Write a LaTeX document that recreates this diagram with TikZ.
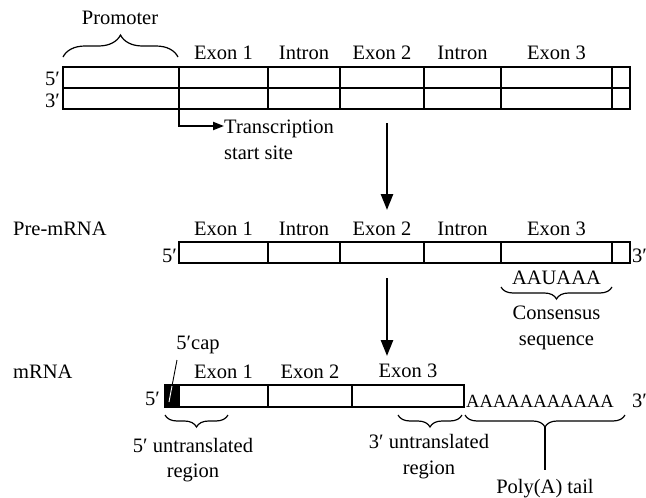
\documentclass[tikz,border=0pt]{standalone}
\usepackage{fontspec}
\setmainfont{Liberation Serif}
\usetikzlibrary{arrows.meta,positioning,decorations.pathreplacing,calc}

\begin{document}
\begin{tikzpicture}[
    x=1pt, y=-1pt,
    lbl/.style={font=\fontsize{20.5}{24}\selectfont, inner sep=0pt, anchor=base},
    strand/.style={draw=black, line width=1.1pt},
    bigarrow/.style={-{Triangle[length=16pt, width=12pt]}, line width=2.6pt},
    tssarrow/.style={-{Triangle[length=11pt, width=8pt]}, line width=2pt},
    brc/.style={decorate, decoration={brace, amplitude=#1}, line width=1.2pt},
    brc/.default=12pt
]
\useasboundingbox (0,0) rectangle (646,498);

% DNA double strand
\draw[strand] (63,67) rectangle (630,109);
\draw[strand] (63,88) -- (630,88);
\foreach \xx in {179,268,340,424,501,612}
  \draw[strand] (\xx,67) -- (\xx,109);
\node[lbl, anchor=base east] (d5) at (60,85) {5′};
\node[lbl, anchor=base east] (d3) at (60,107) {3′};
\node[lbl] (dex1) at (223.5,59) {Exon 1};
\node[lbl] (din1) at (304,59) {Intron};
\node[lbl] (dex2) at (382,59) {Exon 2};
\node[lbl] (din2) at (462.5,59) {Intron};
\node[lbl] (dex3) at (556.5,59) {Exon 3};
\coordinate (promL) at (63,57);
\coordinate (promR) at (178,57);
\draw[brc=22pt] (promL) -- (promR);
\node[lbl] (prom) at (120,24) {Promoter};

% transcription start site
\coordinate (tssA) at (179,110);
\coordinate (tssB) at (179,126);
\node[lbl, anchor=base west] (tss1) at (224,133) {Transcription};
\node[lbl, anchor=base west] (tss2) at (224,159) {start site};
\draw[tssarrow] (tssA) -- (tssB) -- (tss1.west |- tssB);

% transcription
\coordinate (arr1a) at (387,123);
\coordinate (arr1b) at (387,210);
\draw[bigarrow] (arr1a) -- (arr1b);

% pre-mRNA
\node[lbl, anchor=base west] (pre) at (13,235) {Pre-mRNA};
\draw[strand] (179,242) rectangle (630,263);
\foreach \xx in {268,340,424,501,612}
  \draw[strand] (\xx,242) -- (\xx,263);
\node[lbl, anchor=base east] (p5) at (177,262) {5′};
\node[lbl, anchor=base west] (p3) at (632,262) {3′};
\node[lbl] (pex1) at (223.5,235) {Exon 1};
\node[lbl] (pin1) at (304,235) {Intron};
\node[lbl] (pex2) at (382,235) {Exon 2};
\node[lbl] (pin2) at (462.5,235) {Intron};
\node[lbl] (pex3) at (556.5,235) {Exon 3};
\node[lbl] (aau) at (556.5,284) {AAUAAA};
\coordinate (consR) at (612,287);
\coordinate (consL) at (501,287);
\draw[brc=12pt] (consR) -- (consL);
\node[lbl] (cons1) at (556.5,319) {Consensus};
\node[lbl] (cons2) at (556.5,345) {sequence};

% processing
\coordinate (arr2a) at (387,278);
\coordinate (arr2b) at (387,356);
\draw[bigarrow] (arr2a) -- (arr2b);

% mature mRNA
\node[lbl, anchor=base west] (mrna) at (13,378) {mRNA};
\fill[black] (165,385) rectangle (179,407);
\draw[strand] (165,385) rectangle (464,407);
\foreach \xx in {179,268,352}
  \draw[strand] (\xx,385) -- (\xx,407);
\node[lbl, anchor=base east] (m5) at (160,405) {5′};
\node[lbl] (mex1) at (223.5,378) {Exon 1};
\node[lbl] (mex2) at (310,378) {Exon 2};
\node[lbl] (mex3) at (408,377) {Exon 3};
\node[lbl] (cap) at (198,349) {5′cap};
\coordinate (capA) at (177,360);
\coordinate (capB) at (172,386);
\coordinate (capC) at (169,402);
\draw[line width=0.9pt] (capA) -- (capB);
\draw[line width=0.9pt, white] (capB) -- (capC);
\node[lbl, anchor=base west, font=\fontsize{18.6}{22}\selectfont] (polyA) at (466,407) {AAAAAAAAAAA};
\node[lbl, anchor=base west] (m3) at (632,407) {3′};

% braces under mRNA
\coordinate (utr5R) at (228,415);
\coordinate (utr5L) at (165,415);
\draw[brc=12pt] (utr5R) -- (utr5L);
\node[lbl] (utr5a) at (193,452) {5′ untranslated};
\node[lbl] (utr5b) at (193,477) {region};
\coordinate (utr3R) at (462,415);
\coordinate (utr3L) at (398,415);
\draw[brc=12pt] (utr3R) -- (utr3L);
\node[lbl] (utr3a) at (429,448) {3′ untranslated};
\node[lbl] (utr3b) at (429,474) {region};
\coordinate (tailR) at (625,415);
\coordinate (tailL) at (465,415);
\draw[brc=12pt] (tailR) -- (tailL);
\coordinate (tailTip) at (545,427);
\node[lbl] (tail) at (545,493) {Poly(A) tail};
\draw[line width=1.1pt] (tailTip) -- (tail.north |- 0,470);
\end{tikzpicture}
\end{document}
